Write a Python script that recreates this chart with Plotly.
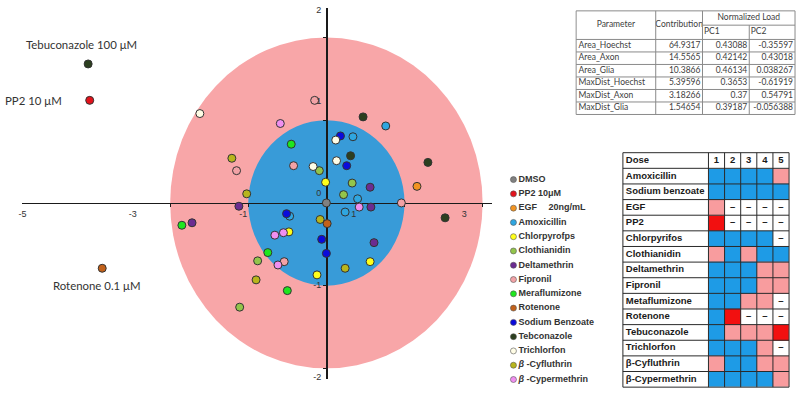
import plotly.graph_objects as go

# ------------------------------------------------------------------ data
# PCA scores (PC1, PC2) per compound, one point per dose
dmso_pc1 = [0.0]
dmso_pc2 = [0.0]
pp2_pc1 = [-3.03]
pp2_pc2 = [1.24]
egf_pc1 = [1.16]
egf_pc2 = [0.20]
amoxicillin_pc1 = [0.76, 0.34, 0.40, 0.24, -0.47]
amoxicillin_pc2 = [0.93, 0.80, 0.05, -0.11, -0.16]
chlorpyrifos_pc1 = [-0.01, -0.48, -0.12, 0.56]
chlorpyrifos_pc2 = [0.25, -0.35, -0.87, -0.71]
clothianidin_pc1 = [-0.09, 0.33, 0.22, -0.88, -1.11]
clothianidin_pc2 = [0.39, 0.24, 0.10, -0.70, -1.26]
deltamethrin_pc1 = [-1.12, -1.72, 0.56, 0.57, 0.61]
deltamethrin_pc2 = [-0.04, -0.24, 0.19, -0.05, -0.48]
fipronil_pc1 = [-0.15, -1.15, -0.42, 0.96, -0.54]
fipronil_pc2 = [1.24, 0.39, 0.45, 0.0, -0.71]
metaflumizone_pc1 = [-0.45, -1.85, -0.75, -0.50]
metaflumizone_pc2 = [0.71, -0.27, -0.60, -1.06]
rotenone_pc1 = [0.01, -2.87]
rotenone_pc2 = [-0.25, -0.79]
sodium_benzoate_pc1 = [0.18, 0.26, -0.51, -0.06, 0.0]
sodium_benzoate_pc2 = [0.81, 0.45, -0.13, -0.44, -0.61]
tebuconazole_pc1 = [0.47, 0.31, 1.30, 1.52, -3.05]
tebuconazole_pc2 = [1.04, 0.57, 0.49, -0.18, 1.68]
trichlorfon_pc1 = [-1.62, -0.17, 0.12, 0.13]
trichlorfon_pc2 = [1.08, 0.44, 0.76, 0.51]
cyfluthrin_pc1 = [-1.21, -1.02, -0.08, -0.90, 0.24]
cyfluthrin_pc2 = [0.54, 0.11, -0.20, -0.93, -0.79]
cypermethrin_pc1 = [-0.59, -0.66, -0.55, -0.62, 0.42]
cypermethrin_pc2 = [0.96, -0.39, -0.36, -0.75, -0.05]

legend_labels = ["DMSO", "PP2 10μM", "EGF\u3000 20ng/mL", "Amoxicillin", "Chlorpyrofps",
                 "Clothianidin", "Deltamethrin", "Fipronil", "Meraflumizone", "Rotenone",
                 "Sodium Benzoate", "Tebconazole", "Trichlorfon",
                 "<i>β</i> -Cyfluthrin", "<i>β</i> -Cypermethrin"]
series_colors = ["#808080", "#e3121b", "#f29422", "#2fa6e0", "#ffff1a",
                 "#93c54b", "#6b2c91", "#f2a2a6", "#1ee61e", "#c2611a",
                 "#0a0adc", "#2c3f1f", "#fffde6", "#b8b51c", "#f08ff0"]
series_pc1 = [dmso_pc1, pp2_pc1, egf_pc1, amoxicillin_pc1, chlorpyrifos_pc1,
              clothianidin_pc1, deltamethrin_pc1, fipronil_pc1, metaflumizone_pc1,
              rotenone_pc1, sodium_benzoate_pc1, tebuconazole_pc1, trichlorfon_pc1,
              cyfluthrin_pc1, cypermethrin_pc1]
series_pc2 = [dmso_pc2, pp2_pc2, egf_pc2, amoxicillin_pc2, chlorpyrifos_pc2,
              clothianidin_pc2, deltamethrin_pc2, fipronil_pc2, metaflumizone_pc2,
              rotenone_pc2, sodium_benzoate_pc2, tebuconazole_pc2, trichlorfon_pc2,
              cyfluthrin_pc2, cypermethrin_pc2]

# axis tick labels as printed in the figure
x_tick_labels = [-5, -3, -1, 1, 3]
y_tick_labels = [2, 1, 0, -1, -2]
ring_radii = [2, 1]

# outlier call-outs
outlier_text = ["Tebuconazole 100 μM", "PP2 10 μM", "Rotenone 0.1 μM"]

# loading table
load_params = ["Area_Hoechst", "Area_Axon", "Area_Glia", "MaxDist_Hoechst", "MaxDist_Axon", "MaxDist_Glia"]
load_contribution = [64.9317, 14.5565, 10.3866, 5.39596, 3.18266, 1.54654]
load_pc1 = [0.43088, 0.42142, 0.46134, 0.3653, 0.37, 0.39187]
load_pc2 = [-0.35597, 0.43018, 0.038267, -0.61919, 0.54791, -0.056388]

# dose table (B = blue, P = pink, R = red, - = not tested)
dose_header = ["Dose", "1", "2", "3", "4", "5"]
dose_compounds = ["Amoxicillin", "Sodium benzoate", "EGF", "PP2", "Chlorpyrifos", "Clothianidin",
                  "Deltamethrin", "Fipronil", "Metaflumizone", "Rotenone", "Tebuconazole",
                  "Trichlorfon", "β-Cyfluthrin", "β-Cypermethrin"]
dose_results = [
    ["B", "B", "B", "B", "P"],
    ["B", "B", "B", "B", "B"],
    ["P", "-", "-", "-", "-"],
    ["R", "-", "-", "-", "-"],
    ["B", "B", "B", "B", "-"],
    ["P", "B", "P", "B", "B"],
    ["B", "B", "B", "P", "P"],
    ["B", "B", "B", "P", "P"],
    ["B", "B", "P", "P", "-"],
    ["B", "R", "-", "-", "-"],
    ["B", "P", "P", "P", "R"],
    ["B", "B", "B", "P", "-"],
    ["P", "B", "B", "P", "P"],
    ["B", "B", "B", "B", "P"],
]

# ------------------------------------------------------------------ geometry / style
W, H = 800, 396
PINK = "#f8a6a8"
BLUE = "#389bd8"
T_BLUE = "#1e9be6"
T_PINK = "#f89c9e"
T_RED = "#f21010"


def px_x(p):
    return p / W


def px_y(p):
    return 1 - p / H


# main plot pixel frame
PL, PR, PT, PB = 18, 490, 5, 382
OX, OY = 324, 203          # axes crossing
UX, UY = 78.5, 84.0        # pixels per PCA unit
LX0, LUX = 296, 55.5       # printed x labels
LY0, LUY = 193, 93.25      # printed y labels

fig = go.Figure()

for r, col in zip(ring_radii, [PINK, BLUE]):
    fig.add_shape(type="circle", xref="x", yref="y", x0=-r, x1=r, y0=-r, y1=r,
                  fillcolor=col, line_width=0, layer="below")

for name, c, xs, ys in zip(legend_labels, series_colors, series_pc1, series_pc2):
    fig.add_trace(go.Scatter(x=xs, y=ys, mode="markers", name=name, hoverinfo="skip",
                             marker=dict(size=8, color=c, line=dict(color="#333333", width=1)),
                             xaxis="x", yaxis="y", cliponaxis=False))

# dummy trace for printed-label axes
fig.add_trace(go.Scatter(x=[None], y=[None], xaxis="x2", yaxis="y2", hoverinfo="skip"))

# outlier call-outs
lab_font = dict(family="Lato", size=11.4, color="#333333")
teb_i = legend_labels.index("Tebconazole")
pp2_i = legend_labels.index("PP2 10μM")
rot_i = legend_labels.index("Rotenone")
fig.add_annotation(x=series_pc1[teb_i][-1], y=series_pc2[teb_i][-1], xref="x", yref="y",
                   text=outlier_text[0], showarrow=False, xanchor="center", yanchor="middle",
                   xshift=-7, yshift=19, font=lab_font)
fig.add_annotation(x=series_pc1[pp2_i][0], y=series_pc2[pp2_i][0], xref="x", yref="y",
                   text=outlier_text[1], showarrow=False, xanchor="right", yanchor="middle",
                   xshift=-26, yshift=0, font=lab_font)
fig.add_annotation(x=series_pc1[rot_i][-1], y=series_pc2[rot_i][-1], xref="x", yref="y",
                   text=outlier_text[2], showarrow=False, xanchor="center", yanchor="middle",
                   xshift=-5, yshift=-17, font=lab_font)

# ------------------------------------------------------------------ custom legend (x3/y3)
leg_idx = list(range(len(legend_labels)))
fig.add_trace(go.Scatter(x=[12] * len(leg_idx), y=leg_idx, mode="markers", hoverinfo="skip",
                         marker=dict(size=6, color=series_colors, line=dict(color="#555555", width=0.6)),
                         xaxis="x3", yaxis="y3", cliponaxis=False))
fig.add_trace(go.Scatter(x=[17] * len(leg_idx), y=leg_idx, mode="text", text=legend_labels,
                         textposition="middle right", hoverinfo="skip",
                         textfont=dict(family="Liberation Sans", size=9, color="#333333", weight="bold"),
                         xaxis="x3", yaxis="y3", cliponaxis=False))

# ------------------------------------------------------------------ loading table (x4/y4)
top_col_w = [80, 47, 47, 46]
top_head_h = 29.0
top_row_h = 12.7
tx = [0]
for w in top_col_w:
    tx.append(tx[-1] + w)
t_bottom = top_head_h + top_row_h * len(load_params)
line_style = dict(color="#8a8a8a", width=1)
hlines = [(0, 0, tx[-1]), (top_head_h / 2, tx[2], tx[-1]), (top_head_h, 0, tx[-1])]
for i in range(1, len(load_params) + 1):
    hlines.append((top_head_h + i * top_row_h, 0, tx[-1]))
for yv, xa, xb in hlines:
    fig.add_shape(type="line", xref="x4", yref="y4", x0=xa, x1=xb, y0=yv, y1=yv, line=line_style)
for k, xv in enumerate(tx):
    y_start = top_head_h / 2 if k == 3 else 0
    fig.add_shape(type="line", xref="x4", yref="y4", x0=xv, x1=xv, y0=y_start, y1=t_bottom, line=line_style)

tfont = dict(family="Lato", size=8.5, color="#404040")
fig.add_trace(go.Scatter(
    x=[(tx[0] + tx[1]) / 2, (tx[1] + tx[2]) / 2, (tx[2] + tx[4]) / 2],
    y=[top_head_h / 2, top_head_h / 2, top_head_h / 4],
    mode="text", text=["Parameter", "Contribution", "Normalized Load"], textposition="middle center",
    textfont=tfont, xaxis="x4", yaxis="y4", hoverinfo="skip", cliponaxis=False))
fig.add_trace(go.Scatter(
    x=[tx[2] + 1.5, tx[3] + 1.5], y=[top_head_h * 0.75] * 2, mode="text", text=["PC1", "PC2"],
    textposition="middle right", textfont=tfont, xaxis="x4", yaxis="y4", hoverinfo="skip", cliponaxis=False))
row_y = [top_head_h + (i + 0.5) * top_row_h for i in range(len(load_params))]
fig.add_trace(go.Scatter(x=[2.5] * len(load_params), y=row_y, mode="text", text=load_params,
                         textposition="middle right", textfont=tfont, xaxis="x4", yaxis="y4",
                         hoverinfo="skip", cliponaxis=False))
for k, vals in enumerate([load_contribution, load_pc1, load_pc2]):
    fig.add_trace(go.Scatter(x=[tx[k + 2] - 2] * len(vals), y=row_y, mode="text",
                             text=[str(v) for v in vals], textposition="middle left", textfont=tfont,
                             xaxis="x4", yaxis="y4", hoverinfo="skip", cliponaxis=False))

# ------------------------------------------------------------------ dose table (x5/y5)
dose_col_w = [86, 16.2, 16.2, 16.2, 16.2, 16.2]
dose_row_h = 15.87
dx = [0]
for w in dose_col_w:
    dx.append(dx[-1] + w)
n_rows = len(dose_compounds) + 1
dy = [i * dose_row_h for i in range(n_rows + 1)]
code = {"-": 0, "B": 1, "P": 2, "R": 3}
z = [[0] * 6]
for res in dose_results:
    z.append([0] + [code[v] for v in res])
fig.add_trace(go.Heatmap(x=dx, y=dy, z=z, zmin=0, zmax=3, showscale=False, hoverinfo="skip",
                         colorscale=[[0, "#ffffff"], [1 / 3, T_BLUE], [2 / 3, T_PINK], [1, T_RED]],
                         xaxis="x5", yaxis="y5"))
dline = dict(color="#2a2a2a", width=1)
for xv in dx:
    fig.add_shape(type="line", xref="x5", yref="y5", x0=xv, x1=xv, y0=0, y1=dy[-1], line=dline)
for yv in dy:
    fig.add_shape(type="line", xref="x5", yref="y5", x0=0, x1=dx[-1], y0=yv, y1=yv, line=dline)

dfont = dict(family="Liberation Sans", size=9.5, color="#1a1a1a", weight="bold")
row_c = [(dy[i] + dy[i + 1]) / 2 for i in range(n_rows)]
fig.add_trace(go.Scatter(x=[3] * n_rows, y=row_c, mode="text",
                         text=[dose_header[0]] + [s.replace(" ", "\u00a0") for s in dose_compounds],
                         textposition="middle right", textfont=dfont, xaxis="x5", yaxis="y5",
                         hoverinfo="skip", cliponaxis=False))
col_c = [(dx[j] + dx[j + 1]) / 2 for j in range(1, 6)]
fig.add_trace(go.Scatter(x=col_c, y=[row_c[0]] * 5, mode="text", text=dose_header[1:],
                         textposition="middle center", textfont=dfont, xaxis="x5", yaxis="y5",
                         hoverinfo="skip", cliponaxis=False))
dash_x, dash_y = [], []
for i, res in enumerate(dose_results):
    for j, v in enumerate(res):
        if v == "-":
            dash_x.append(col_c[j])
            dash_y.append(row_c[i + 1])
fig.add_trace(go.Scatter(x=dash_x, y=dash_y, mode="text", text=["–"] * len(dash_x),
                         textposition="middle center", textfont=dfont, xaxis="x5", yaxis="y5",
                         hoverinfo="skip", cliponaxis=False))

# ------------------------------------------------------------------ layout
hidden = dict(visible=False, showgrid=False, zeroline=False, fixedrange=True)
tick_font = dict(family="Liberation Sans", size=9, color="#333333")
fig.update_layout(
    width=W, height=H, autosize=False, margin=dict(l=0, r=0, t=0, b=0),
    paper_bgcolor="white", plot_bgcolor="white", showlegend=False,
    xaxis=dict(domain=[px_x(PL), px_x(PR)], range=[(PL - OX) / UX, (PR - OX) / UX],
               anchor="free", position=px_y(OY), showline=True, linecolor="#1a1a1a", linewidth=1.5,
               ticks="outside", ticklen=3, tickwidth=1.2, tickcolor="#1a1a1a",
               tickmode="array", tickvals=[-2, -1, 1, 2], showticklabels=False,
               showgrid=False, zeroline=False, layer="below traces", fixedrange=True),
    yaxis=dict(domain=[px_y(PB), px_y(PT)], range=[(OY - PB) / UY, (OY - PT) / UY],
               anchor="free", position=px_x(OX), showline=True, linecolor="#1a1a1a", linewidth=1.5,
               ticks="outside", ticklen=3, tickwidth=1.2, tickcolor="#1a1a1a",
               tickmode="array", tickvals=[-2, -1, 1, 2], showticklabels=False,
               showgrid=False, zeroline=False, layer="below traces", fixedrange=True),
    xaxis2=dict(overlaying="x", anchor="free", position=px_y(OY),
                range=[(PL - LX0) / LUX, (PR - LX0) / LUX], tickmode="array",
                tickvals=x_tick_labels, ticktext=[str(v) for v in x_tick_labels],
                showline=False, ticks="", showgrid=False, zeroline=False, tickfont=tick_font,
                ticklabelstandoff=4, fixedrange=True),
    yaxis2=dict(overlaying="y", anchor="free", position=px_x(OX),
                range=[(LY0 - PB) / LUY, (LY0 - PT) / LUY], tickmode="array",
                tickvals=y_tick_labels, ticktext=[str(v) for v in y_tick_labels],
                showline=False, ticks="", showgrid=False, zeroline=False, tickfont=tick_font,
                ticklabelstandoff=5, fixedrange=True),
    xaxis3=dict(domain=[px_x(500), px_x(620)], range=[0, 120], anchor="y3", **hidden),
    yaxis3=dict(domain=[px_y(392), px_y(170)], range=[(392 - 179.3) / 14.5, (170 - 179.3) / 14.5],
                anchor="x3", **hidden),
    xaxis4=dict(domain=[px_x(574), px_x(796)], range=[-1, tx[-1] + 1], anchor="y4", **hidden),
    yaxis4=dict(domain=[px_y(8 + t_bottom + 1), px_y(7)], range=[t_bottom + 1, -1], anchor="x4", **hidden),
    xaxis5=dict(domain=[px_x(621), px_x(622 + dx[-1] + 1)], range=[-1, dx[-1] + 1], anchor="y5", **hidden),
    yaxis5=dict(domain=[px_y(152 + dy[-1] + 1), px_y(151)], range=[dy[-1] + 1, -1], anchor="x5", **hidden),
)

fig.write_html("out.html", config={"displayModeBar": False, "staticPlot": True},
               post_script="document.body.style.margin='0px';document.body.style.overflow='hidden';")
